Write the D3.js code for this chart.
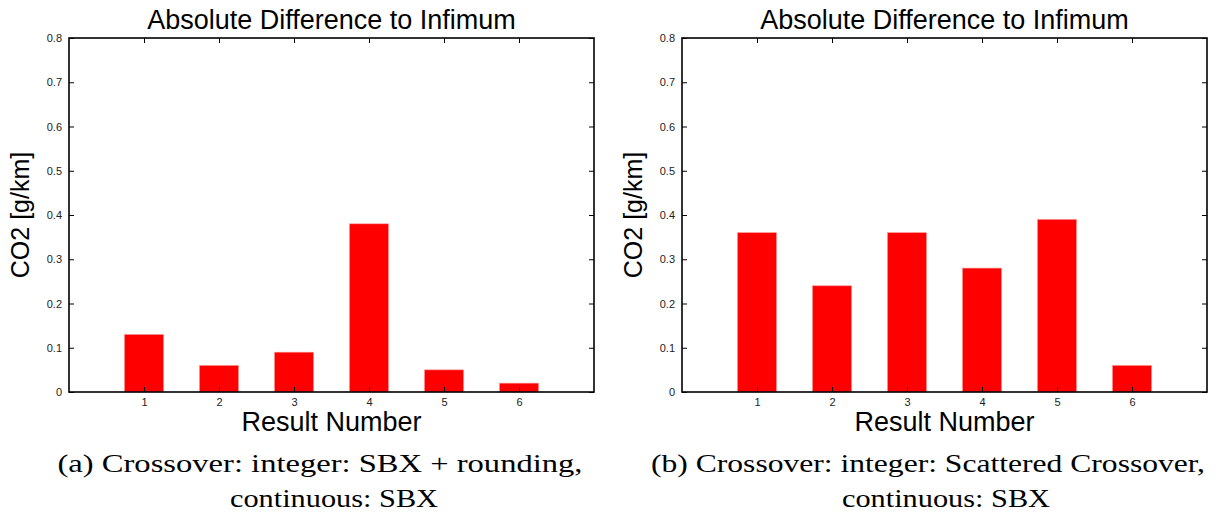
<!DOCTYPE html>
<html><head><meta charset="utf-8">
<script src="https://cdn.jsdelivr.net/npm/d3@7"></script>
<style>body{margin:0;background:#fff}svg{display:block}</style>
</head><body>
<svg id="c" width="1216" height="515"></svg>
<script>
const categories = [1, 2, 3, 4, 5, 6];
const valuesA = [0.13, 0.06, 0.09, 0.38, 0.05, 0.02];
const valuesB = [0.36, 0.24, 0.36, 0.28, 0.39, 0.06];
const yTicks = [0, 0.1, 0.2, 0.3, 0.4, 0.5, 0.6, 0.7, 0.8];
const titleText = "Absolute Difference to Infimum";
const xLabelText = "Result Number";
const yLabelText = "CO2 [g/km]";
const captionA = ["(a) Crossover: integer: SBX + rounding,", "continuous: SBX"];
const captionB = ["(b) Crossover: integer: Scattered Crossover,", "continuous: SBX"];

const svg = d3.select("#c");

function panel(x0, x1, values, caption, capLayout) {
  const top = 38, bottom = 392;
  const x = d3.scaleLinear().domain([0, 7]).range([x0, x1]);
  const y = d3.scaleLinear().domain([0, 0.8]).range([bottom, top]);
  const g = svg.append("g");
  const bw = (x(1) - x(0)) * 0.52;

  g.selectAll("rect.bar").data(values).join("rect")
    .attr("class", "bar")
    .attr("x", (d, i) => x(categories[i]) - bw / 2)
    .attr("y", d => y(d))
    .attr("width", bw)
    .attr("height", d => y(0) - y(d))
    .attr("fill", "#ff0000")
    .attr("stroke", "#ff9090").attr("stroke-width", 0.6);

  const tickFont = "11px 'Liberation Sans', Arial, sans-serif";
  g.append("g").attr("transform", `translate(${x0},0)`)
    .call(d3.axisLeft(y).tickValues(yTicks).tickFormat(d => d === 0 ? "0" : d3.format(".1f")(d)).tickSizeInner(-5).tickSizeOuter(0).tickPadding(7))
    .call(a => a.select(".domain").remove())
    .call(a => a.selectAll("text").style("font", tickFont).attr("fill", "#222"))
    .call(a => a.selectAll("line").attr("stroke", "#000"));
  g.append("g").attr("transform", `translate(${x1},0)`)
    .call(d3.axisRight(y).tickValues(yTicks).tickFormat("").tickSizeInner(-5).tickSizeOuter(0))
    .call(a => a.select(".domain").remove());
  g.append("g").attr("transform", `translate(0,${bottom})`)
    .call(d3.axisBottom(x).tickValues(categories).tickFormat(d3.format("d")).tickSizeInner(-5).tickSizeOuter(0).tickPadding(6))
    .call(a => a.select(".domain").remove())
    .call(a => a.selectAll("text").style("font", tickFont).attr("fill", "#222"));
  g.append("g").attr("transform", `translate(0,${top})`)
    .call(d3.axisTop(x).tickValues(categories).tickFormat("").tickSizeInner(-5).tickSizeOuter(0))
    .call(a => a.select(".domain").remove());
  g.append("rect").attr("x", x0).attr("y", top).attr("width", x1 - x0).attr("height", bottom - top)
    .attr("fill", "none").attr("stroke", "#000").attr("stroke-width", 1.6);

  const cx = (x0 + x1) / 2;
  const sans = "'Liberation Sans', Arial, sans-serif";
  g.append("text").attr("x", cx).attr("y", 29).attr("text-anchor", "middle")
    .style("font-family", sans).style("font-size", "27px").text(titleText);
  g.append("text").attr("x", cx).attr("y", 431).attr("text-anchor", "middle")
    .style("font-family", sans).style("font-size", "27px").text(xLabelText);
  g.append("text").attr("transform", `translate(${x0 - 40},${(top + bottom) / 2}) rotate(-90)`)
    .attr("text-anchor", "middle")
    .style("font-family", sans).style("font-size", "25px").text(yLabelText);

  const serif = "'Liberation Serif', 'DejaVu Serif', serif";
  caption.forEach((t, i) => {
    g.append("text").attr("x", capLayout[i][0]).attr("y", 472 + i * 35).attr("text-anchor", "middle")
      .attr("textLength", capLayout[i][1]).attr("lengthAdjust", "spacingAndGlyphs")
      .style("font-family", serif).style("font-size", "26px").text(t);
  });
}

panel(69, 594, valuesA, captionA, [[320, 525], [334, 208]]);
panel(682, 1207, valuesB, captionB, [[928, 554], [946, 208]]);
</script>
</body></html>
